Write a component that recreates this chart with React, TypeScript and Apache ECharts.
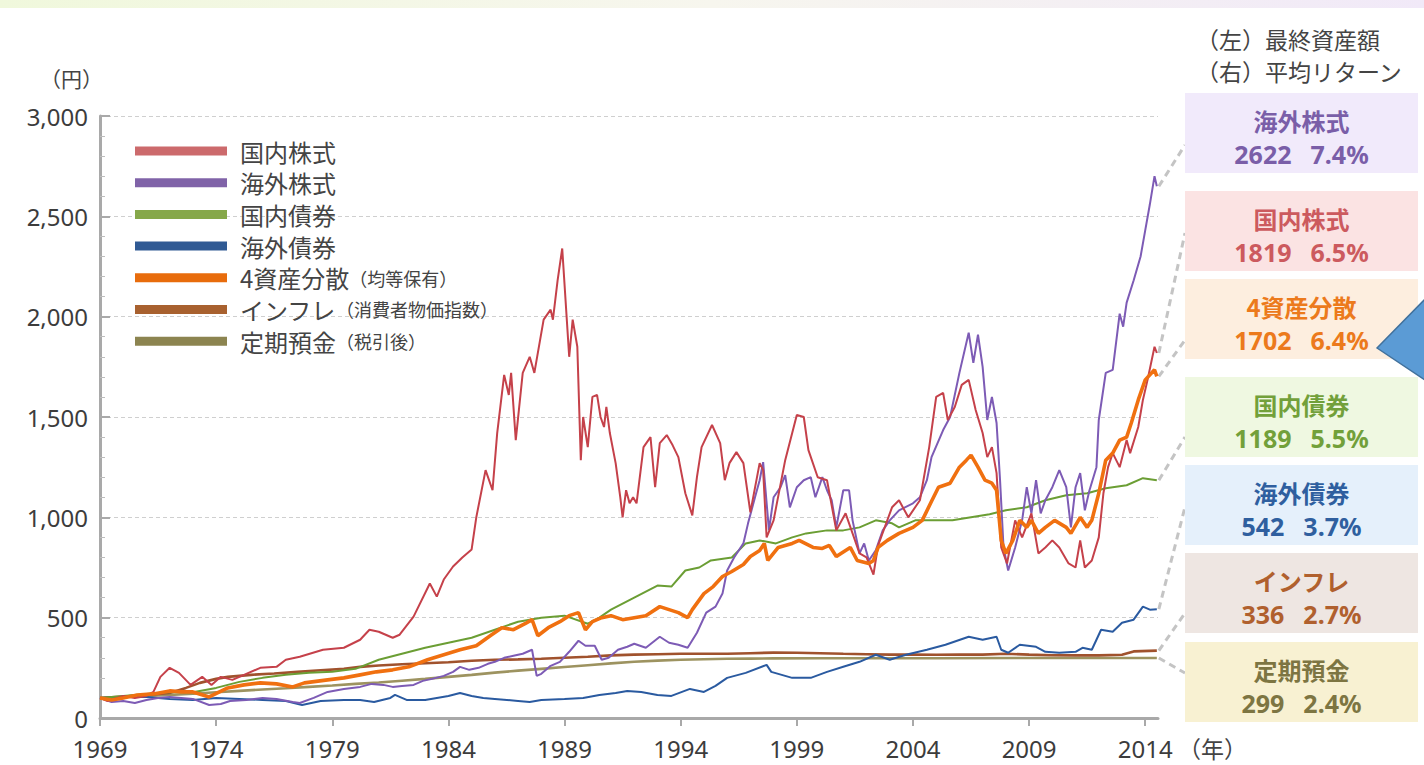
import React, { useEffect, useRef } from 'react';
import * as echarts from 'echarts';

const FONT = '"Noto Sans CJK JP", "Noto Sans", sans-serif';
const NUM_FONT = '"Noto Sans", "Noto Sans CJK JP", sans-serif';

// ---- data ----
const seriesNames = ['国内株式', '海外株式', '国内債券', '海外債券', '4資産分散', 'インフレ', '定期預金'];
const legendNotes: Record<string, string> = {
  '4資産分散': '（均等保有）',
  'インフレ': '（消費者物価指数）',
  '定期預金': '（税引後）',
};
const xTickYears = [1969, 1974, 1979, 1984, 1989, 1994, 1999, 2004, 2009, 2014];

const domesticStock: [number, number][] = [
  [1969.0, 100], [1969.3, 85], [1969.6, 95], [1970.0, 110], [1970.5, 100], [1971.0, 110], [1971.3, 130], [1971.6, 205],
  [1972.0, 250], [1972.4, 225], [1972.9, 165], [1973.4, 205], [1973.8, 165], [1974.2, 205], [1974.7, 190], [1975.2, 215],
  [1975.9, 250], [1976.6, 255], [1977.0, 290], [1977.6, 305], [1978.6, 340], [1979.5, 350], [1980.2, 390], [1980.6, 440],
  [1981.0, 430], [1981.6, 400], [1981.9, 415], [1982.5, 505], [1983.2, 670], [1983.5, 605], [1983.8, 690], [1984.2, 755],
  [1984.6, 800], [1985.0, 840], [1985.2, 1000], [1985.6, 1235], [1985.9, 1135], [1986.1, 1420], [1986.4, 1710], [1986.6, 1610],
  [1986.7, 1720], [1986.9, 1385], [1987.2, 1720], [1987.5, 1800], [1987.7, 1720], [1988.1, 1985], [1988.4, 2035], [1988.5, 1985],
  [1988.7, 2180], [1988.9, 2340], [1989.2, 1800], [1989.35, 1985], [1989.55, 1850], [1989.7, 1285], [1989.8, 1500], [1990.0, 1350],
  [1990.2, 1600], [1990.4, 1610], [1990.55, 1500], [1990.7, 1450], [1990.8, 1550], [1990.95, 1420], [1991.2, 1270], [1991.4, 1100],
  [1991.5, 1000], [1991.65, 1135], [1991.8, 1070], [1991.95, 1100], [1992.1, 1070], [1992.4, 1350], [1992.7, 1400], [1992.9, 1150],
  [1993.1, 1370], [1993.4, 1410], [1993.65, 1360], [1993.9, 1300], [1994.2, 1120], [1994.5, 1010], [1994.7, 1200], [1994.9, 1350],
  [1995.35, 1460], [1995.7, 1370], [1995.9, 1185], [1996.1, 1270], [1996.4, 1325], [1996.7, 1270], [1997.0, 1025], [1997.4, 1270],
  [1997.55, 1235], [1997.7, 900], [1998.0, 985], [1998.5, 1285], [1999.0, 1510], [1999.3, 1500], [1999.5, 1335], [1999.9, 1200],
  [2000.3, 1185], [2000.7, 935], [2001.1, 1020], [2001.7, 820], [2002.0, 800], [2002.3, 715], [2002.5, 860], [2003.1, 1050],
  [2003.4, 1085], [2003.8, 1000], [2004.3, 1085], [2004.7, 1350], [2005.0, 1600], [2005.3, 1620], [2005.5, 1485], [2005.8, 1550],
  [2006.1, 1660], [2006.4, 1685], [2006.7, 1535], [2007.0, 1420], [2007.2, 1300], [2007.4, 1350], [2007.6, 1220], [2007.8, 850],
  [2008.05, 770], [2008.4, 985], [2008.7, 900], [2009.1, 1020], [2009.4, 820], [2009.7, 850], [2010.0, 885], [2010.3, 850],
  [2010.7, 770], [2011.0, 750], [2011.2, 885], [2011.4, 750], [2011.7, 785], [2012.0, 900], [2012.2, 1120], [2012.4, 1250],
  [2012.6, 1320], [2012.9, 1250], [2013.2, 1385], [2013.35, 1320], [2013.7, 1450], [2013.9, 1585], [2014.1, 1685], [2014.4, 1850],
  [2014.5, 1819],
];

const foreignStock: [number, number][] = [
  [1969.0, 100], [1969.5, 80], [1970.0, 85], [1970.5, 75], [1971.0, 90], [1971.5, 100], [1972.0, 105], [1972.5, 100],
  [1973.0, 95], [1973.7, 65], [1974.2, 70], [1974.6, 85], [1975.3, 90], [1976.0, 100], [1976.6, 95], [1977.3, 80],
  [1977.6, 75], [1978.2, 100], [1978.8, 130], [1979.5, 145], [1980.2, 155], [1980.7, 170], [1981.2, 165], [1981.6, 155],
  [1982.0, 160], [1982.5, 165], [1982.9, 185], [1983.3, 195], [1983.8, 210], [1984.2, 230], [1984.5, 255], [1984.9, 240],
  [1985.3, 250], [1985.7, 270], [1986.0, 280], [1986.4, 300], [1986.8, 310], [1987.2, 320], [1987.6, 340], [1987.8, 210],
  [1988.0, 220], [1988.4, 260], [1988.8, 280], [1989.2, 330], [1989.6, 385], [1989.9, 360], [1990.3, 360], [1990.6, 290],
  [1990.9, 300], [1991.3, 340], [1991.7, 355], [1992.0, 370], [1992.5, 350], [1993.1, 405], [1993.5, 375], [1993.9, 365],
  [1994.3, 350], [1994.7, 425], [1995.1, 525], [1995.5, 555], [1995.8, 620], [1996.0, 735], [1996.3, 800], [1996.7, 870],
  [1996.9, 970], [1997.2, 1100], [1997.4, 1185], [1997.55, 1275], [1997.8, 935], [1998.0, 1100], [1998.3, 1150], [1998.5, 1210],
  [1998.7, 1050], [1999.0, 1150], [1999.3, 1185], [1999.6, 1200], [1999.8, 1100], [2000.1, 1200], [2000.3, 1135], [2000.5, 1085],
  [2000.7, 950], [2001.0, 1135], [2001.25, 1135], [2001.4, 985], [2001.7, 820], [2001.9, 870], [2002.1, 785], [2002.4, 835],
  [2002.7, 935], [2003.0, 985], [2003.4, 1035], [2004.0, 1070], [2004.3, 1100], [2004.6, 1185], [2004.8, 1300], [2005.3, 1435],
  [2005.6, 1500], [2006.0, 1720], [2006.4, 1920], [2006.6, 1770], [2006.8, 1910], [2007.0, 1750], [2007.2, 1485], [2007.4, 1600],
  [2007.6, 1470], [2007.75, 1185], [2007.9, 850], [2008.1, 735], [2008.4, 850], [2008.7, 985], [2008.9, 1150], [2009.1, 1020],
  [2009.3, 1185], [2009.5, 1020], [2009.7, 1085], [2010.0, 1150], [2010.3, 1235], [2010.6, 1150], [2010.8, 950], [2011.0, 1150],
  [2011.2, 1220], [2011.4, 1035], [2011.6, 1135], [2011.9, 1250], [2012.0, 1485], [2012.3, 1720], [2012.6, 1735], [2012.9, 2015],
  [2013.05, 1950], [2013.2, 2070], [2013.5, 2180], [2013.8, 2300], [2014.0, 2430], [2014.2, 2560], [2014.4, 2700], [2014.5, 2650],
];

const domesticBond: [number, number][] = [
  [1969, 100], [1970, 110], [1971, 120], [1972, 130], [1973, 128], [1974, 150], [1975, 180], [1976, 200],
  [1977, 215], [1978, 225], [1979, 230], [1980, 245], [1981, 290], [1982, 320], [1983, 350], [1984, 375],
  [1985, 400], [1986, 440], [1987, 480], [1988, 500], [1989, 510], [1990, 470], [1990.5, 500], [1991, 540],
  [1992, 600], [1993, 660], [1993.6, 655], [1994.2, 735], [1994.8, 750], [1995.3, 785], [1996.2, 800], [1996.8, 870],
  [1997.4, 885], [1998.1, 870], [1998.8, 900], [1999.4, 920], [2000.3, 935], [2001, 935], [2001.7, 950], [2002.4, 985],
  [2003.1, 970], [2003.4, 950], [2004.1, 985], [2005, 985], [2005.7, 985], [2006.5, 1000], [2007.3, 1015], [2008.0, 1035],
  [2008.9, 1050], [2009.7, 1085], [2010.6, 1110], [2011.5, 1120], [2012.3, 1145], [2013.2, 1160], [2013.9, 1195], [2014.5, 1185],
];

const foreignBond: [number, number][] = [
  [1969, 100], [1970, 105], [1971, 105], [1972, 95], [1973, 90], [1974, 100], [1975, 95], [1976, 90],
  [1977, 85], [1977.7, 65], [1978.5, 85], [1979.5, 90], [1980.2, 90], [1980.8, 80], [1981.5, 100], [1981.7, 115],
  [1982.2, 90], [1983, 90], [1984, 110], [1984.5, 125], [1985, 110], [1985.5, 100], [1986, 95], [1987, 85],
  [1987.5, 80], [1988, 90], [1989, 95], [1989.8, 100], [1990.5, 115], [1991.2, 125], [1991.7, 135], [1992.3, 130],
  [1993, 115], [1993.6, 110], [1994.4, 145], [1995, 130], [1995.5, 160], [1996, 200], [1996.8, 225], [1997.7, 265],
  [1997.9, 230], [1998.8, 200], [1999.6, 200], [2000.3, 230], [2001, 255], [2001.7, 280], [2002.4, 315], [2003, 290],
  [2003.7, 315], [2004.6, 340], [2005.4, 365], [2006.4, 405], [2007, 390], [2007.6, 405], [2007.8, 340], [2008.1, 325],
  [2008.6, 365], [2009.3, 355], [2009.7, 330], [2010.3, 325], [2011.0, 330], [2011.3, 350], [2011.7, 340], [2012.1, 440],
  [2012.6, 430], [2013.0, 475], [2013.5, 490], [2013.9, 555], [2014.2, 540], [2014.5, 542],
];

const diversified: [number, number][] = [
  [1969.0, 100], [1969.5, 90], [1970.0, 100], [1970.6, 115], [1971.3, 120], [1972.0, 135], [1972.5, 130], [1973.0, 130],
  [1973.7, 105], [1974.5, 150], [1975.2, 165], [1975.9, 175], [1976.6, 170], [1977.3, 155], [1977.8, 175], [1978.8, 190],
  [1979.5, 200], [1980.2, 215], [1980.9, 230], [1981.6, 240], [1982.3, 255], [1983.1, 290], [1983.8, 315], [1984.5, 340],
  [1985.2, 360], [1985.8, 410], [1986.3, 450], [1986.8, 440], [1987.3, 470], [1987.6, 490], [1987.85, 410], [1988.3, 450],
  [1988.8, 480], [1989.2, 510], [1989.6, 525], [1989.9, 440], [1990.2, 480], [1990.6, 500], [1991.0, 510], [1991.5, 490],
  [1992.0, 500], [1992.5, 510], [1993.1, 555], [1993.5, 540], [1993.9, 525], [1994.3, 500], [1994.5, 540], [1995.0, 620],
  [1995.4, 655], [1995.8, 705], [1996.2, 730], [1996.7, 765], [1997.0, 805], [1997.4, 835], [1997.6, 870], [1997.75, 785],
  [1998.2, 850], [1998.8, 870], [1999.1, 885], [1999.7, 850], [2000.1, 845], [2000.4, 860], [2000.7, 805], [2001.3, 850],
  [2001.6, 785], [2002.1, 770], [2002.3, 785], [2002.5, 850], [2002.9, 885], [2003.4, 920], [2004.0, 950], [2004.4, 985],
  [2004.8, 1080], [2005.1, 1150], [2005.6, 1170], [2006.0, 1250], [2006.3, 1285], [2006.5, 1310], [2006.8, 1250], [2007.1, 1185],
  [2007.4, 1170], [2007.6, 1135], [2007.8, 885], [2008.0, 820], [2008.3, 885], [2008.6, 985], [2008.9, 950], [2009.1, 985],
  [2009.4, 920], [2009.7, 950], [2010.1, 985], [2010.6, 950], [2010.8, 920], [2011.2, 1000], [2011.5, 950], [2011.7, 985],
  [2012.0, 1120], [2012.3, 1285], [2012.6, 1320], [2012.9, 1385], [2013.2, 1400], [2013.4, 1470], [2013.7, 1585], [2014.0, 1685],
  [2014.4, 1735], [2014.5, 1702],
];

const inflation: [number, number][] = [
  [1969, 100], [1970, 107], [1971, 115], [1972, 125], [1972.7, 150], [1973.3, 175], [1974, 195], [1974.5, 205],
  [1975.5, 215], [1976.5, 222], [1977.5, 230], [1978.5, 238], [1979.5, 245], [1980.2, 255], [1981, 262], [1982, 268],
  [1983, 273], [1984, 278], [1985, 285], [1986, 290], [1987, 292], [1988, 295], [1989, 300], [1990, 305],
  [1991, 312], [1992, 316], [1993, 318], [1994, 320], [1995, 320], [1996, 320], [1997, 323], [1998, 326],
  [1999, 325], [2000, 323], [2001, 320], [2002, 318], [2003, 316], [2004, 316], [2005, 315], [2006, 316],
  [2007, 316], [2008, 320], [2009, 316], [2010, 313], [2011, 312], [2012, 312], [2013, 315], [2013.5, 332],
  [2014.5, 336],
];

const timeDeposit: [number, number][] = [
  [1969, 100], [1970, 105], [1971, 110], [1972, 115], [1973, 121], [1974, 128], [1975, 135], [1976, 142],
  [1977, 148], [1978, 155], [1979, 162], [1980, 170], [1981, 177], [1982, 186], [1983, 195], [1984, 205],
  [1985, 215], [1986, 226], [1987, 236], [1988, 245], [1989, 254], [1990, 263], [1991, 272], [1992, 280],
  [1993, 286], [1994, 290], [1995, 293], [1996, 295], [1997, 296], [1998, 297], [2000, 298], [2005, 298],
  [2010, 299], [2014.5, 299],
];

// right-hand summary boxes
const boxNames = ['海外株式', '国内株式', '4資産分散', '国内債券', '海外債券', 'インフレ', '定期預金'];
const boxFinalValues = [2622, 1819, 1702, 1189, 542, 336, 299];
const boxReturns = ['7.4%', '6.5%', '6.4%', '5.5%', '3.7%', '2.7%', '2.4%'];

// ---- styles ----
const lineColors: Record<string, string> = {
  '国内株式': '#c5414a',
  '海外株式': '#7d5bb5',
  '国内債券': '#6b9e34',
  '海外債券': '#2a5aa0',
  '4資産分散': '#f07010',
  'インフレ': '#a0522d',
  '定期預金': '#9d9360',
};
const lineWidths: Record<string, number> = {
  '国内株式': 2, '海外株式': 2, '国内債券': 2, '海外債券': 2, '4資産分散': 3.6, 'インフレ': 2.6, '定期預金': 2.6,
};
const legendColors: Record<string, string> = {
  '国内株式': '#cc6a6c',
  '海外株式': '#8063a8',
  '国内債券': '#86a84a',
  '海外債券': '#305a94',
  '4資産分散': '#e86c0c',
  'インフレ': '#a8612f',
  '定期預金': '#8c8450',
};
const boxStyles = [
  { bg: '#f1eafb', fg: '#7a5ea8' },
  { bg: '#fbe3e3', fg: '#cc5a5e' },
  { bg: '#fdeedf', fg: '#ec7a1c' },
  { bg: '#eff8e1', fg: '#72a03a' },
  { bg: '#e5f0fb', fg: '#2f5f9f' },
  { bg: '#eee6e2', fg: '#b0602e' },
  { bg: '#f8f1d2', fg: '#7d7542' },
];
const boxTops = [93, 191, 279, 377, 465, 553, 642];
const connectorTargets = [145, 233, 340, 437, 507, 613, 673];

const dataByName: Record<string, [number, number][]> = {
  '国内株式': domesticStock,
  '海外株式': foreignStock,
  '国内債券': domesticBond,
  '海外債券': foreignBond,
  '4資産分散': diversified,
  'インフレ': inflation,
  '定期預金': timeDeposit,
};
const drawOrder = ['定期預金', 'インフレ', '海外債券', '国内債券', '海外株式', '国内株式', '4資産分散'];

export default function App() {
  const ref = useRef<HTMLDivElement>(null);
  useEffect(() => {
    if (!ref.current) return;
    const chart = echarts.init(ref.current, undefined, { renderer: 'svg' });
    const axisGrey = '#a9a9a9';
    chart.setOption({
      animation: false,
      backgroundColor: '#ffffff',
      textStyle: { fontFamily: FONT },
      grid: { left: 100, right: 266, top: 116, bottom: 47 },
      legend: {
        orient: 'vertical',
        left: 135,
        top: 139,
        padding: 0,
        itemWidth: 92,
        itemHeight: 9,
        itemGap: 7.7,
        icon: 'rect',
        selectedMode: false,
        data: seriesNames.map((n) => ({ name: n, itemStyle: { color: legendColors[n] } })),
        formatter: (name: string) =>
          legendNotes[name] ? `{n|${name}}{s|${legendNotes[name]}}` : `{n|${name}}`,
        textStyle: {
          padding: [0, 0, 0, 8],
          rich: {
            n: { fontSize: 24, color: '#444', fontFamily: FONT, lineHeight: 28 },
            s: { fontSize: 18, color: '#444', fontFamily: FONT, lineHeight: 28 },
          },
        },
      },
      xAxis: {
        type: 'value',
        min: 1969,
        max: 2014.55,
        axisLine: { show: true, onZero: true, lineStyle: { color: axisGrey, width: 3 } },
        axisTick: { show: true, customValues: xTickYears, length: 8, lineStyle: { color: axisGrey, width: 2 } },
        axisLabel: {
          customValues: xTickYears,
          fontSize: 24,
          color: '#3c3c3c',
          margin: 18,
          fontFamily: NUM_FONT,
          formatter: (v: number) => String(v),
        },
        splitLine: { show: false },
      },
      yAxis: {
        type: 'value',
        min: 0,
        max: 3000,
        interval: 500,
        axisLine: { show: true, lineStyle: { color: axisGrey, width: 3 } },
        axisTick: { show: true, inside: true, length: 10, lineStyle: { color: axisGrey, width: 2 } },
        minorTick: { show: true, splitNumber: 5, length: 5, lineStyle: { color: '#bdbdbd', width: 1 } },
        axisLabel: {
          fontSize: 24,
          color: '#3c3c3c',
          margin: 12,
          fontFamily: NUM_FONT,
          formatter: (v: number) => v.toLocaleString('en-US'),
        },
        splitLine: { show: true, lineStyle: { color: '#cfcfcf', type: [4, 3], width: 1 } },
      },
      series: drawOrder.map((n) => ({
        name: n,
        type: 'line',
        data: dataByName[n],
        symbol: 'none',
        color: lineColors[n],
        lineStyle: { color: lineColors[n], width: lineWidths[n] },
        itemStyle: { color: legendColors[n] },
      })),
    });

    const graphics: any[] = [];
    // top gradient band
    graphics.push({
      type: 'rect',
      shape: { x: 0, y: 0, width: 1424, height: 8 },
      style: {
        fill: new echarts.graphic.LinearGradient(0, 0, 1, 0, [
          { offset: 0, color: '#f0f8dc' },
          { offset: 0.5, color: '#f7f6ee' },
          { offset: 1, color: '#f1e9f8' },
        ]),
      },
      silent: true,
    });
    graphics.push({
      type: 'text',
      x: 40,
      y: 78,
      style: { text: '（円）', fontSize: 21, fill: '#444', fontFamily: FONT, verticalAlign: 'middle' },
    });
    graphics.push({
      type: 'text',
      x: 1178,
      y: 748,
      style: { text: '（年）', fontSize: 23, fill: '#444', fontFamily: FONT, verticalAlign: 'middle' },
    });
    graphics.push({
      type: 'text',
      x: 1196,
      y: 38.5,
      style: { text: '（左）最終資産額', fontSize: 23, fill: '#444', fontFamily: FONT, verticalAlign: 'middle' },
    });
    graphics.push({
      type: 'text',
      x: 1196,
      y: 70.5,
      style: { text: '（右）平均リターン', fontSize: 23, fill: '#444', fontFamily: FONT, verticalAlign: 'middle' },
    });

    // connectors
    boxNames.forEach((n, i) => {
      const d = dataByName[n];
      const last = d[d.length - 1];
      const p = chart.convertToPixel({ gridIndex: 0 }, last) as number[];
      graphics.push({
        type: 'line',
        shape: { x1: p[0] + 2, y1: p[1], x2: 1185, y2: connectorTargets[i] },
        style: { stroke: '#c4c4c4', lineWidth: 3, lineDash: [7, 5] },
        silent: true,
      });
    });

    // boxes
    boxNames.forEach((n, i) => {
      const top = boxTops[i];
      const st = boxStyles[i];
      graphics.push({
        type: 'rect',
        shape: { x: 1185, y: top, width: 233, height: 80 },
        style: { fill: st.bg },
        silent: true,
      });
      graphics.push({
        type: 'text',
        x: 1301.5,
        y: top + 27,
        style: {
          text: n, fontSize: 24, fontWeight: 'bold', fill: st.fg, fontFamily: FONT,
          align: 'center', verticalAlign: 'middle',
        },
      });
      graphics.push({
        type: 'text',
        x: 1301.5,
        y: top + 60.5,
        style: {
          text: `${boxFinalValues[i]}\u2002\u00a0${boxReturns[i]}`, fontSize: 25, fontWeight: 'bold', fill: st.fg,
          fontFamily: NUM_FONT, align: 'center', verticalAlign: 'middle',
        },
      });
    });

    // blue callout pointer at right edge
    graphics.push({
      type: 'polygon',
      shape: { points: [[1377, 348], [1428, 296], [1428, 382]] },
      style: { fill: '#5b9bd5', stroke: '#41719c', lineWidth: 1.5 },
      silent: true,
    });

    chart.setOption({ graphic: graphics });
    return () => chart.dispose();
  }, []);
  return (
    <div
      ref={ref}
      style={{ position: 'fixed', left: 0, top: 0, width: 1424, height: 765, background: '#fff' }}
    />
  );
}
